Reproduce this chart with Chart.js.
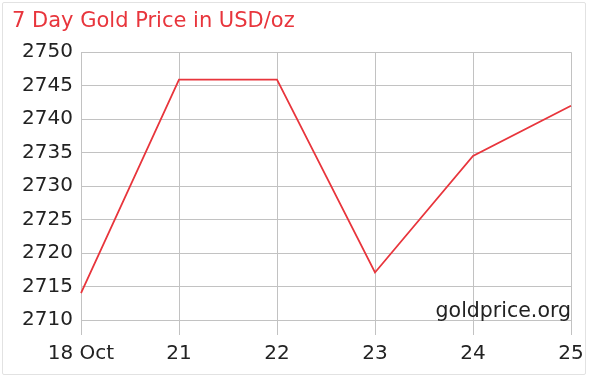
<!DOCTYPE html>
<html>
<head>
<meta charset="utf-8">
<script src="https://cdn.jsdelivr.net/npm/chart.js@4/dist/chart.umd.min.js"></script>
<style>
  html, body { margin: 0; padding: 0; background: #fff; }
  #wrap { position: relative; width: 596px; height: 379px; }
  #frame { position: absolute; left: 2px; top: 2px; width: 582px; height: 371px;
           border: 1px solid #e2e2e2; border-radius: 2px; }
  #goldChart { position: absolute; left: 0; top: 0; }
</style>
</head>
<body>
<div id="wrap">
  <div id="frame"></div>
  <canvas id="goldChart" width="596" height="379"></canvas>
</div>
<script>
const days = ["18 Oct", "21", "22", "23", "24", "25"];
const prices = [2714.0, 2745.9, 2745.9, 2717.1, 2734.5, 2742.0];
const yMin = 2710, yMax = 2750, yStep = 5;

const font = "'DejaVu Sans', Verdana, sans-serif";

// watermark in the lower right of the plot
const watermark = {
  id: "watermark",
  afterDatasetsDraw(chart) {
    const ctx = chart.ctx;
    const area = chart.chartArea;
    ctx.save();
    ctx.font = "20.5px " + font;
    ctx.fillStyle = "#222";
    ctx.textAlign = "right";
    ctx.textBaseline = "alphabetic";
    ctx.fillText("goldprice.org", area.right, area.bottom - 3);
    ctx.restore();
  }
};

new Chart(document.getElementById("goldChart"), {
  type: "line",
  data: {
    labels: days,
    datasets: [{
      data: prices,
      borderColor: "#e8353c",
      borderWidth: 1.8,
      pointRadius: 0,
      tension: 0,
      fill: false
    }]
  },
  options: {
    responsive: false,
    animation: false,
    layout: { padding: { left: 12, right: 25, top: 0, bottom: 6 } },
    plugins: {
      legend: { display: false },
      tooltip: { enabled: false },
      title: {
        display: true,
        text: "7 Day Gold Price in USD/oz",
        align: "start",
        color: "#e8353c",
        font: { family: font, size: 21, weight: "normal" },
        padding: { top: 9, bottom: 18 }
      }
    },
    scales: {
      x: {
        offset: false,
        grid: { color: "#c2c2c2", lineWidth: 1, tickLength: 15, tickColor: "#c2c2c2" },
        border: { color: "#c2c2c2" },
        ticks: { color: "#222", font: { family: font, size: 20 }, padding: 7, maxRotation: 0, autoSkip: false }
      },
      y: {
        min: yMin,
        max: yMax,
        grid: { color: "#c2c2c2", lineWidth: 1, drawTicks: false },
        border: { color: "#c2c2c2" },
        ticks: {
          stepSize: yStep, color: "#222", font: { family: font, size: 20 }, padding: 8,
          callback: v => String(v)
        },
        afterFit(scale) { scale.width = 69; }
      }
    }
  },
  plugins: [watermark]
});
</script>
</body>
</html>
